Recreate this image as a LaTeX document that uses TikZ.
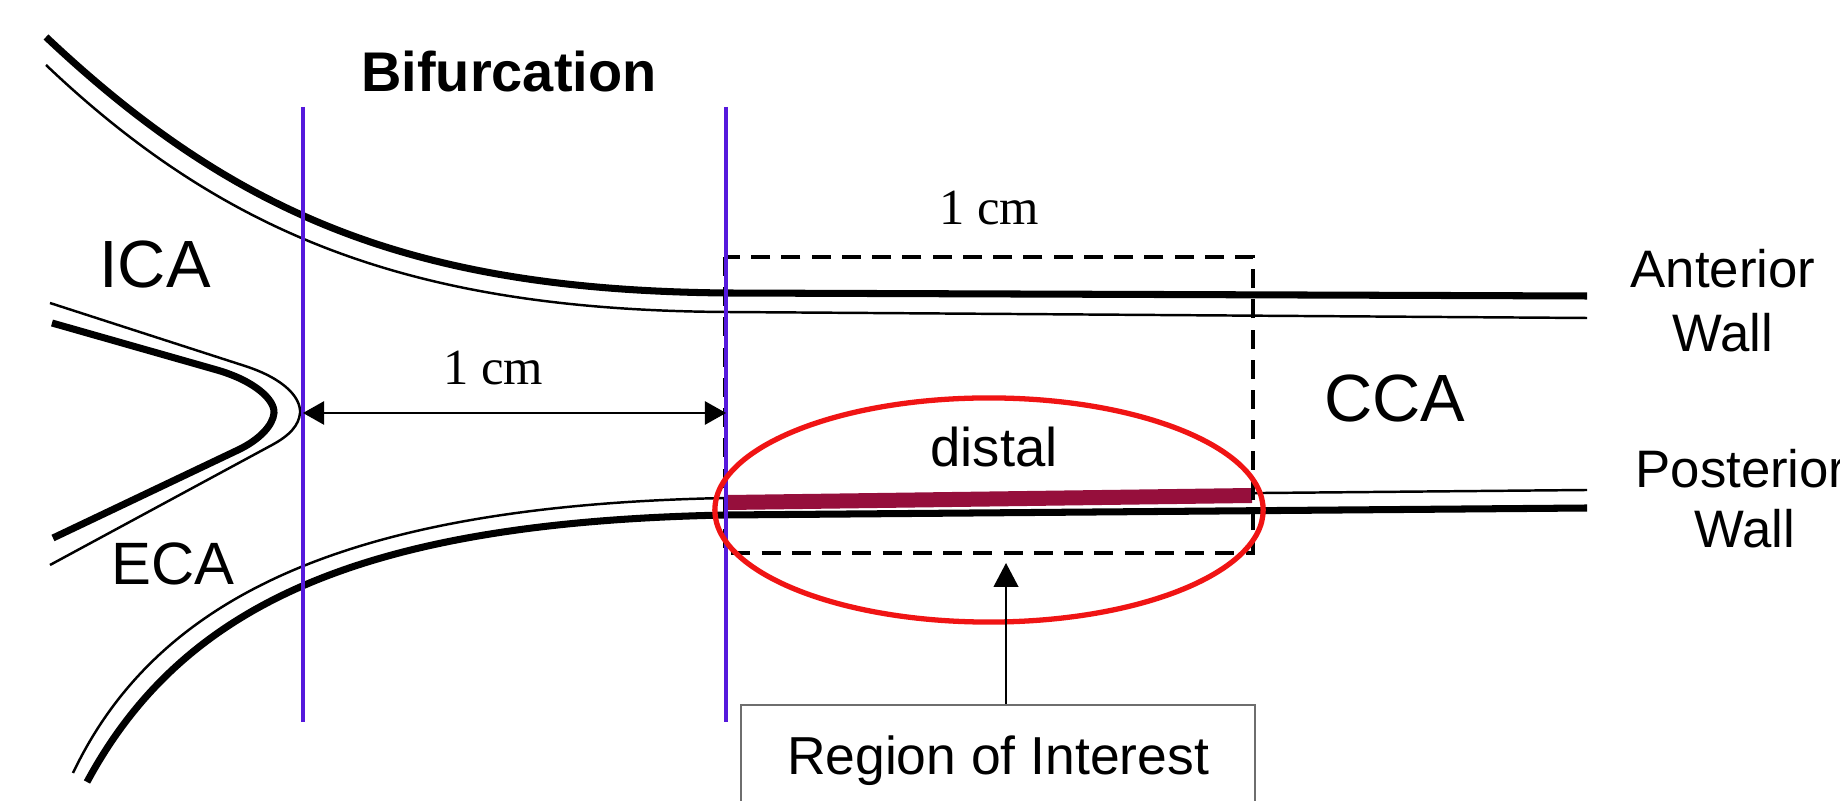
\documentclass[tikz,border=0pt]{standalone}
\usepackage{fontspec}
\setsansfont{Liberation Sans}
\newfontfamily\timesfont{Liberation Serif}
\usetikzlibrary{arrows.meta}

\definecolor{cutblue}{RGB}{85,25,220}
\definecolor{plaque}{RGB}{150,15,60}
\definecolor{ringred}{RGB}{240,20,20}
\definecolor{boxgray}{RGB}{110,110,110}

\begin{document}
\begin{tikzpicture}[x=0.01cm,y=-0.01cm,
  thickwall/.style={line width=2pt, black},
  thinwall/.style={line width=0.7pt, black},
  cutline/.style={line width=1pt, cutblue},
  dashbox/.style={line width=1pt, dash pattern=on 5.4pt off 3.2pt, black},
  ringstyle/.style={line width=1.5pt, ringred},
  dimarrow/.style={line width=0.6pt, {Triangle[length=6pt,width=6.6pt]}-{Triangle[length=6pt,width=6.6pt]}},
  pointer/.style={line width=0.6pt, -{Triangle[length=6.8pt,width=7pt]}},
  lab/.style={inner sep=0pt, anchor=base},
  bigsans/.style={font=\sffamily\fontsize{19pt}{22pt}\selectfont},
  midsans/.style={font=\sffamily\fontsize{15.5pt}{18pt}\selectfont},
  sidesans/.style={font=\sffamily\fontsize{15pt}{18pt}\selectfont},
  measure/.style={font=\timesfont\fontsize{14.4pt}{17pt}\selectfont},
]
\clip (0,0) rectangle (1840,801);
\fill[white] (0,0) rectangle (1840,801);

% ICA outer wall running into the anterior CCA wall
\draw[thickwall] (46,37) .. controls (240,220) and (420,290) .. (726,293) -- (1587,296);
\draw[thinwall] (46,65) .. controls (230,240) and (420,310) .. (726,312) -- (1587,318);

% flow divider between ICA and ECA
\draw[thinwall] (50,303) -- (245,366) .. controls (285,379) and (301,398) .. (300,413)
  .. controls (299,425) and (290,435.3) .. (272,445) -- (50,565);
\draw[thickwall] (52,323) -- (217,370) .. controls (255,381) and (275,400) .. (274,413)
  .. controls (273,425) and (260,439.5) .. (238,450) -- (53,538);

% ECA outer wall running into the posterior CCA wall
\draw[thinwall] (73,773) .. controls (160,590) and (360,505) .. (726,498) -- (1587,490);
\draw[thickwall] (87,782) .. controls (185,600) and (370,522) .. (726,515) -- (1587,508);

% distal posterior wall segment
\fill[plaque] (728,495) -- (1252,488) -- (1252,503) -- (728,510) -- cycle;

% 1 cm measurement window
\draw[dashbox] (725,257) rectangle (1253,553);

% bifurcation cut lines
\coordinate (c1top) at (303,107);
\coordinate (c1bot) at (303,722);
\coordinate (c2top) at (726,107);
\coordinate (c2bot) at (726,722);
\draw[cutline] (c1top) -- (c1bot);
\draw[cutline] (c2top) -- (c2bot);

% distance between the cuts
\coordinate (dimL) at (303,413);
\coordinate (dimR) at (726,413);
\draw[dimarrow] (dimL) -- (dimR);

% region of interest ring
\draw[ringstyle] (989,510) ellipse [x radius=2.74cm, y radius=1.12cm];

% labels
\node[lab, font=\sffamily\bfseries\fontsize{15.9pt}{18pt}\selectfont] (bif) at (509,92) {Bifurcation};
\node[lab, bigsans] (ica) at (155,288) {ICA};
\node[lab, font=\sffamily\fontsize{17pt}{19pt}\selectfont] (eca) at (173,585) {ECA};
\node[lab, bigsans] (cca) at (1395,422) {CCA};
\node[lab, measure] (cmA) at (493,385) {1 cm};
\node[lab, measure] (cmB) at (989,225) {1 cm};
\node[lab, midsans] (distal) at (994,467) {distal};
\node[lab, sidesans] (ant) at (1723,288) {Anterior};
\node[lab, sidesans] (antwall) at (1723,352) {Wall};
\node[lab, sidesans] (post) at (1741,488) {Posterior};
\node[lab, sidesans] (postwall) at (1745,548) {Wall};

% region of interest callout
\node[draw=boxgray, line width=0.6pt, anchor=north, minimum width=5.13cm, minimum height=1.11cm,
      text height=0.37cm, text depth=0.1cm, inner sep=0pt,
      font=\sffamily\fontsize{15.2pt}{18pt}\selectfont] (roi) at (998,704) {Region of Interest};
\coordinate (roitip) at (1006,563);
\draw[pointer] (roi.north -| roitip) -- (roitip);
\end{tikzpicture}
\end{document}
